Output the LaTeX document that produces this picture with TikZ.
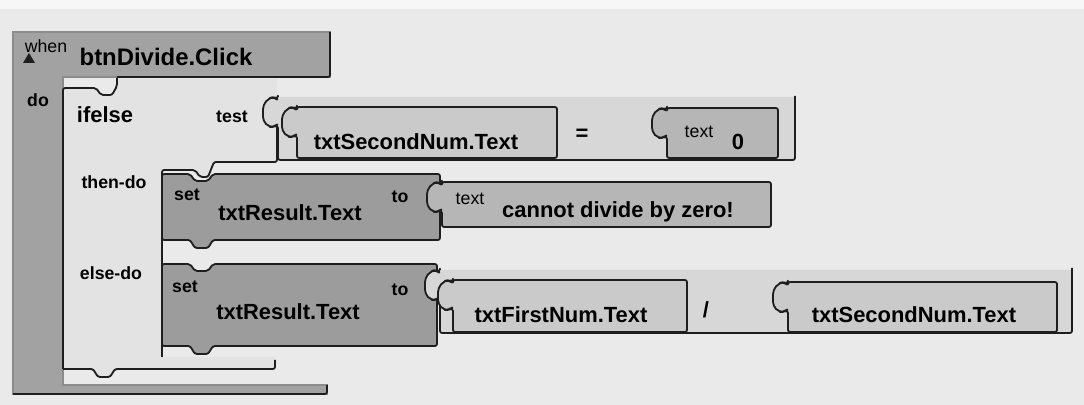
\documentclass[tikz,border=0pt]{standalone}
\usepackage{fontspec}
\setmainfont{Liberation Sans}
\usepackage{tikz}

\definecolor{paper}{HTML}{EAEAEA}
\definecolor{ink}{HTML}{1E1E1E}
\definecolor{eventgray}{HTML}{A2A2A2}
\definecolor{setgray}{HTML}{9C9C9C}
\definecolor{ctrlgray}{HTML}{E3E3E3}
\definecolor{opgray}{HTML}{D7D7D7}
\definecolor{getgray}{HTML}{CACACA}
\definecolor{textgray}{HTML}{B6B6B6}

\newcommand{\jigsaw}{[rounded corners=3pt] -- ++(0,3) -- ++(-4,-3) -- ++(-5,1) -- ++(-6,7) -- ++(0,16) -- ++(6,6) -- ++(5,0) -- ++(4,-3) [rounded corners=1.5pt]}

\begin{document}
\begin{tikzpicture}[x=0.025cm, y=-0.025cm]
    \tikzstyle{every node}=[inner sep=0pt];
    \tikzstyle{edge}=[draw=ink, line width=1.3pt, line join=round, rounded corners=1.5pt];
    \tikzstyle{big}=[font=\bfseries\fontsize{15.6}{18}\selectfont];
    \tikzstyle{lbl}=[font=\bfseries\fontsize{12.6}{14}\selectfont];
    \tikzstyle{plain}=[font=\fontsize{12.6}{14}\selectfont];
    \fill[paper] (0,0) rectangle (1084,405);
    \fill[white!60!paper] (0,0) rectangle (1084,9);
    \useasboundingbox (0,0) rectangle (1084,405);

    \filldraw[fill=eventgray, draw=black!45, line width=0.8pt] (13,32) -- (330,32) -- (330,77) -- (63,77) -- (63,385) -- (327,385) -- (327,394) -- (13,394) -- cycle;
    \draw[edge] (330,32) -- (330,77) -- (117,77);
    \draw[edge] (327,385) -- (327,394) -- (13,394);

    \fill[ctrlgray] (63,88) -- (96,88) -- (101,95) -- (112,95) -- (117,86) -- (117,79) -- (277,79) -- (277,162) -- (214,162) -- (208,177) -- (200,177) -- (195,170) -- (162,170) -- (162,357) -- (275,357) -- (275,369) -- (115,369) -- (110,377) -- (98,377) -- (93,369) -- (63,369) -- cycle;
    \draw[edge] (63,369) -- (63,88) -- (96,88) -- (101,95) -- (112,95) -- (117,86) -- (117,78);
    \draw[edge] (277,100) -- (277,162) -- (214,162) -- (208,177) -- (200,177) -- (195,170) -- (162,170) -- (162,357);
    \draw[edge] (63,369) -- (93,369) -- (98,377) -- (110,377) -- (115,369) -- (275,369) -- (275,360);

    \fill[opgray] (278,97) \jigsaw -- (278,160) -- (795,160) -- (795,97) -- cycle;
    \draw[edge] (278,97) \jigsaw -- (278,160) -- (795,160) -- (795,96);
    \filldraw[edge, fill=getgray] (297,107) \jigsaw -- (297,158) -- (557,158) -- (557,107) -- cycle;
    \filldraw[edge, fill=textgray] (667,108) \jigsaw -- (667,158) -- (778,158) -- (778,108) -- cycle;

    \filldraw[edge, fill=setgray] (162,174) -- (190,174) -- (195,181) -- (208,181) -- (213,174) -- (440,174) -- (440,240) -- (213,240) -- (208,248) -- (195,248) -- (190,240) -- (162,240) -- cycle;
    \filldraw[edge, fill=textgray] (442,182) \jigsaw -- (442,227) -- (771,227) -- (771,182) -- cycle;

    \filldraw[edge, fill=setgray] (162,264) -- (190,264) -- (195,271) -- (208,271) -- (213,264) -- (437,264) -- (437,346) -- (213,346) -- (208,354) -- (195,354) -- (190,346) -- (162,346) -- cycle;
    \fill[opgray] (440,270) \jigsaw -- (440,333) -- (1072,333) -- (1072,270) -- cycle;
    \draw[edge] (440,270) \jigsaw -- (440,333) -- (1072,333) -- (1072,268);
    \filldraw[edge, fill=getgray] (453,280) \jigsaw -- (453,332) -- (687,332) -- (687,280) -- cycle;
    \filldraw[edge, fill=getgray] (788,282) \jigsaw -- (788,332) -- (1057,332) -- (1057,282) -- cycle;

    \node[plain] (when) at (46,46) {when};
    \fill[ink] (23,63) -- (35,63) -- (29,53) -- cycle;
    \node[big, font=\bfseries\fontsize{17}{20}\selectfont] (event) at (166,57) {btnDivide.Click};
    \node[lbl] (do) at (38,100) {do};
    \node[big] (ifelse) at (105,115) {ifelse};
    \node[lbl] (test) at (232,117) {test};
    \node[big] (lhs) at (416,142) {txtSecondNum.Text};
    \node[big] (eq) at (582,135) {=};
    \node[plain] (textzero) at (699,132) {text};
    \node[big] (zero) at (738,142) {0};
    \node[lbl] (thendo) at (114,182) {then-do};
    \node[lbl] (setone) at (187,195) {set};
    \node[big] (resone) at (290,213) {txtResult.Text};
    \node[lbl] (toone) at (400,197) {to};
    \node[plain] (textmsg) at (470,199) {text};
    \node[big] (msg) at (618,212) {cannot divide by zero!};
    \node[lbl] (elsedo) at (111,273) {else-do};
    \node[lbl] (settwo) at (185,287) {set};
    \node[big] (restwo) at (288,312) {txtResult.Text};
    \node[lbl] (totwo) at (400,290) {to};
    \node[big] (first) at (561,315) {txtFirstNum.Text};
    \node[big] (slash) at (706,310) {/};
    \node[big] (second) at (914,315) {txtSecondNum.Text};
\end{tikzpicture}
\end{document}
